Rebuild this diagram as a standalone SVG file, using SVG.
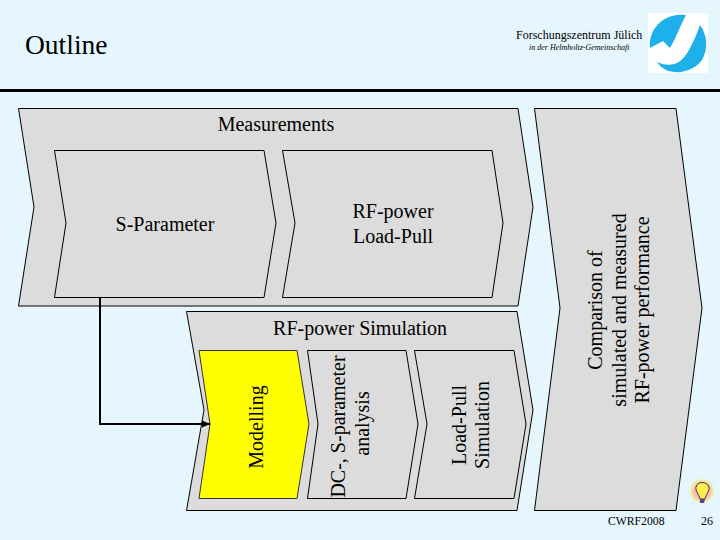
<svg xmlns="http://www.w3.org/2000/svg" width="720" height="540" viewBox="0 0 720 540">
<style>
.s{fill:#dcdcdc;stroke:#000;stroke-width:1}
text{font-family:"Liberation Serif","Times New Roman",serif;fill:#000}
.m{font-size:20px;text-anchor:middle}
</style>
<defs>
<marker id="a" markerUnits="userSpaceOnUse" markerWidth="9" markerHeight="8" refX="8" refY="4" orient="auto"><path d="M0 0.5L8 4L0 7.500Z" fill="#000"/></marker>
<radialGradient id="g"><stop offset="0" stop-color="#f59a90"/><stop offset="0.65" stop-color="#f8c4b0"/><stop offset="0.85" stop-color="#eef0a8"/><stop offset="1" stop-color="#e6f6ff"/></radialGradient>
</defs>
<rect width="720" height="540" fill="#e6f6ff"/>
<rect x="0" y="89" width="720" height="3" fill="#000"/>
<text x="25" y="54" font-size="27.500">Outline</text>
<text x="516" y="39" font-size="12">Forschungszentrum Jülich</text>
<text x="529" y="50" font-size="8" font-style="italic">in der Helmholtz-Gemeinschaft</text>
<g id="logo">
<rect x="648" y="13" width="60" height="60" fill="#fff"/>
<path d="M686 15C665 12 648 28 650 48L663 41L670 48C676 38 680 26 686 15Z" fill="#1eb0ea"/>
<path d="M700 25C708 36 708 50 702 60C694 71 678 75 666 70C662 68 659 65 657 62C666 66 672 65 677 63C683 60 687 54 690 48C694 41 697 33 700 25Z" fill="#1eb0ea"/>
</g>
<g id="measurements"><path class="s" d="M18.500 108.500H518L533 207L518 306H18.500L34 207Z"/><text class="m" x="276" y="131">Measurements</text></g>
<g id="s-parameter"><path class="s" d="M54.500 150.500H264L276 223L264 297.500H54.500L66 223Z"/><text class="m" x="165" y="231">S-Parameter</text></g>
<g id="rf-load-pull"><path class="s" d="M282.500 150.500H492L503 223L492 297.500H282.500L295 223Z"/><text class="m" x="393" y="218">RF-power</text><text class="m" x="393" y="243">Load-Pull</text></g>
<g id="comparison"><path class="s" d="M534.500 108.500H676L702 308L676 510.500H534.500L560 308Z"/><g transform="translate(602 310) rotate(-90)"><text class="m" x="0" y="0">Comparison of</text><text class="m" x="0" y="24">simulated and measured</text><text class="m" x="0" y="47">RF-power performance</text></g></g>
<g id="rf-simulation"><path class="s" d="M186.500 311.500H517L533 410L517 510.500H186.500L204 410Z"/><text class="m" x="360" y="335">RF-power Simulation</text></g>
<g id="modelling"><path d="M199 350.500H297L309 424L297 498.500H199L210 424Z" fill="#ff0" stroke="#333" stroke-width="1"/><text class="m" transform="translate(263 427) rotate(-90)">Modelling</text></g>
<g id="dc-analysis"><path class="s" d="M307.500 350.500H406L418 424L406 498.500H307.500L318 424Z"/><g transform="translate(345 426.500) rotate(-90)"><text class="m" x="0" y="0">DC-, S-parameter</text><text class="m" x="3" y="24">analysis</text></g></g>
<g id="load-pull-sim"><path class="s" d="M414.500 350.500H514L526 424L514 498.500H414.500L427 424Z"/><g transform="translate(466 425) rotate(-90)"><text class="m" x="0" y="0">Load-Pull</text><text class="m" x="0" y="23">Simulation</text></g></g>
<g id="connectors"><path d="M100 297V424H210" fill="none" stroke="#000" stroke-width="2" marker-end="url(#a)"/></g>
<g id="bulb">
<circle cx="702" cy="491" r="13" fill="url(#g)"/>
<path d="M696 487C697 481 707 481 709 487C710 491 706 494 705 499H700C699 494 695 491 696 487Z" fill="#ffef50" stroke="#403050" stroke-width="1"/>
<path d="M700 499H705L704 503H700Z" fill="#604090"/>
</g>
<text x="608" y="525" font-size="11.700">CWRF2008</text>
<text x="701" y="525" font-size="12">26</text>
</svg>
